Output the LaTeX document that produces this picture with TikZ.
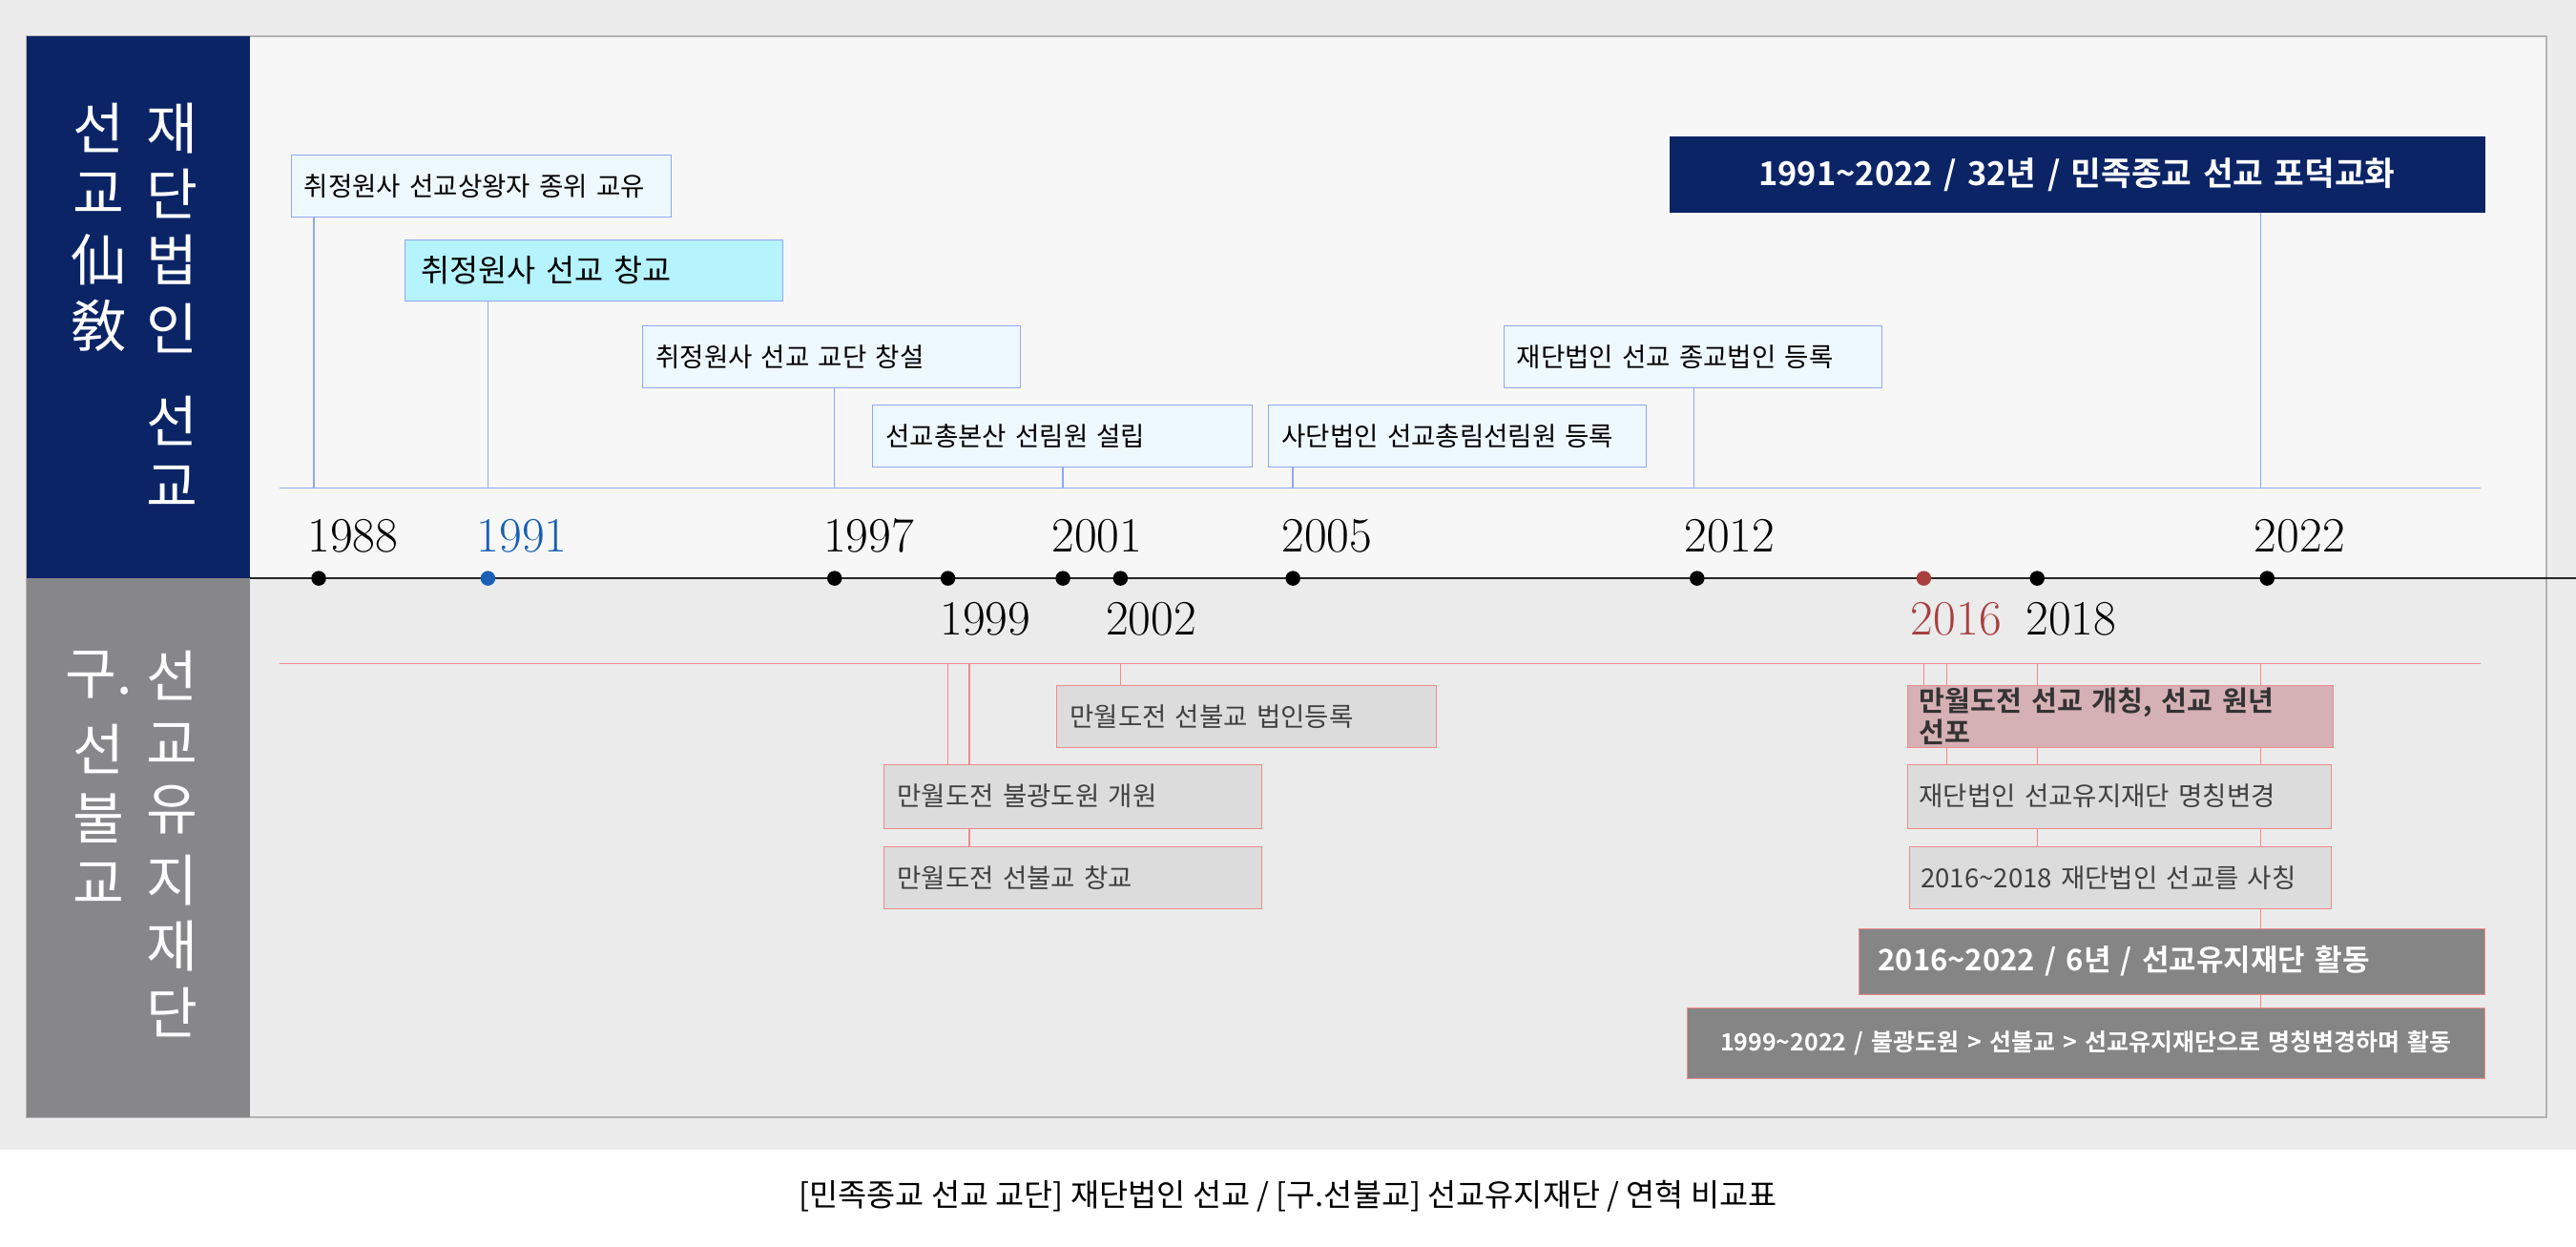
\documentclass[tikz,border=0pt]{standalone}
\usepackage{fontspec}
\newfontfamily\kr{Noto Sans CJK KR}
\newfontfamily\krb{Noto Sans CJK KR Bold}
\definecolor{navy}{HTML}{0B2466}
\definecolor{colgray}{HTML}{87878A}
\definecolor{bline}{HTML}{8FA8F0}
\definecolor{pline}{HTML}{F08A8A}
\definecolor{tfill}{HTML}{EEF8FF}
\definecolor{cfill}{HTML}{B5F3FD}
\definecolor{gfill}{HTML}{DCDCDC}
\definecolor{rfill}{HTML}{D5B0B4}
\definecolor{dgray}{HTML}{858585}
\definecolor{yblue}{HTML}{1A5FB4}
\definecolor{yred}{HTML}{A8403F}
\tikzset{
  topbox/.style = {draw = bline, fill = tfill, anchor = north west, inner sep = 0pt, align = left, font = \kr\fontsize{16}{18}\selectfont},
  botbox/.style = {draw = pline, fill = gfill, anchor = north west, inner sep = 0pt, align = left, text = black!75, font = \kr\fontsize{16}{18}\selectfont},
  darkbox/.style = {draw = pline, fill = dgray, anchor = north west, inner sep = 0pt, text = white, font = \krb\fontsize{18}{20}\selectfont},
  year/.style = {anchor = west, inner sep = 0pt, font = \fontsize{30}{32}\selectfont},
  dot/.style = {circle, fill = black, inner sep = 0pt, minimum size = 9pt},
  bl/.style = {draw = bline, line width = 0.8pt},
  pl/.style = {draw = pline, line width = 0.8pt},
  colchar/.style = {text = white, font = \kr\fontsize{34}{36}\selectfont, inner sep = 0pt}
}
\begin{document}
\begin{tikzpicture}[x = 1pt, y = -1pt]
\useasboundingbox (0, 0) rectangle (1568, 759);
\fill[white] (0, 0) rectangle (1568, 759);
\fill[gray!15] (0, 0) rectangle (1568, 700);
% panels
\fill[white!97!black] (152, 22) rectangle (1550, 352);
\fill[gray!16] (152, 352) rectangle (1550, 680);
\draw[gray!60, line width = 0.8pt] (16, 22) rectangle (1550, 680);
\fill[navy] (16, 22) rectangle (152, 352);
\fill[colgray] (16, 352) rectangle (152, 680);
% left titles
\foreach \c [count = \i] in {선, 교, 仙, 敎}
  \node[colchar] at (60, 38 + 40*\i) {\c};
\foreach \c/\y in {재/78, 단/118, 법/158, 인/200, 선/256, 교/296}
  \node[colchar] at (105, \y) {\c};
\foreach \c/\y in {구./411, 선/456, 불/498, 교/538}
  \node[colchar] at (60, \y) {\c};
\foreach \c/\y in {선/411, 교/453, 유/493, 지/536, 재/576, 단/616}
  \node[colchar] at (105, \y) {\c};
% guide lines
\coordinate (bl) at (170, 297);
\coordinate (pl) at (170, 404);
\draw[bl] (bl) -- (1510, 297);
\draw[pl] (pl) -- (1510, 404);
\draw[gray!30!black, line width = 1.2pt] (152, 352) -- (1568, 352);
% dots and years
\foreach \n/\x/\c in {88/194/black, 91/297/yblue, 97/508/black, 99/577/black, 01/647/black, 02/682/black, 05/787/black, 12/1033/black, 16/1171/yred, 18/1240/black, 22/1380/black}
  \node[dot, fill = \c] (d\n) at (\x, 352) {};
\node[year] at (187, 326) {1988};
\node[year, text = yblue] at (290, 326) {1991};
\node[year] at (501, 326) {1997};
\node[year] at (640, 326) {2001};
\node[year] at (780, 326) {2005};
\node[year] at (1025, 326) {2012};
\node[year] at (1372, 326) {2022};
\node[year] at (572, 377) {1999};
\node[year] at (673, 377) {2002};
\node[year, text = yred] at (1163, 377) {2016};
\node[year] at (1233, 377) {2018};
% upper connectors
\coordinate (c88) at (191, 297);
\coordinate (c12) at (1031, 297);
\coordinate (c22) at (1376, 297);
\draw[bl] (c88) -- (191, 132);
\draw[bl] (d91 |- bl) -- (297, 183);
\draw[bl] (d97 |- bl) -- (508, 236);
\draw[bl] (d01 |- bl) -- (647, 284);
\draw[bl] (d05 |- bl) -- (787, 284);
\draw[bl] (c12) -- (1031, 236);
\draw[bl] (c22) -- (1376, 129);
% lower connectors
\coordinate (c99) at (590, 404);
\coordinate (c16) at (1185, 404);
\coordinate (c18) at (1240, 404);
\coordinate (c22b) at (1376, 404);
\draw[pl] (d99 |- pl) -- (577, 465);
\draw[pl] (c99) -- (590, 515);
\draw[pl] (d02 |- pl) -- (682, 417);
\draw[pl] (d16 |- pl) -- (1171, 417);
\draw[pl] (c16) -- (1185, 465);
\draw[pl] (c18) -- (1240, 553);
\draw[pl] (c22b) -- (1376, 613);
% upper boxes
\node[topbox, minimum width = 231pt, minimum height = 38pt, text width = 215pt] (t1) at (177, 94) {취정원사 선교상왕자 종위 교유};
\node[topbox, fill = cfill, minimum width = 230pt, minimum height = 37pt, text width = 210pt, font = \kr\fontsize{19}{21}\selectfont] (t2) at (246, 146) {취정원사 선교 창교};
\node[topbox, minimum width = 230pt, minimum height = 38pt, text width = 214pt] (t3) at (391, 198) {취정원사 선교 교단 창설};
\node[topbox, minimum width = 231pt, minimum height = 38pt, text width = 215pt] (t4) at (531, 246) {선교총본산 선림원 설립};
\node[topbox, minimum width = 230pt, minimum height = 38pt, text width = 214pt] (t5) at (772, 246) {사단법인 선교총림선림원 등록};
\node[topbox, minimum width = 230pt, minimum height = 38pt, text width = 214pt] (t6) at (915, 198) {재단법인 선교 종교법인 등록};
\node[topbox, fill = navy, draw = navy, text = white, align = center, minimum width = 496pt, minimum height = 46pt, text width = 496pt, font = \krb\fontsize{20}{22}\selectfont] (t7) at (1016, 83) {1991\textasciitilde 2022 / 32년 / 민족종교 선교 포덕교화};
% lower boxes
\node[botbox, minimum width = 231pt, minimum height = 38pt, text width = 215pt] (b1) at (643, 417) {만월도전 선불교 법인등록};
\node[botbox, minimum width = 230pt, minimum height = 39pt, text width = 214pt] (b2) at (538, 465) {만월도전 불광도원 개원};
\node[botbox, minimum width = 230pt, minimum height = 38pt, text width = 214pt] (b3) at (538, 515) {만월도전 선불교 창교};
\node[botbox, fill = rfill, text = black!80, minimum width = 259pt, minimum height = 38pt, text width = 245pt, font = \krb\fontsize{17}{19}\selectfont] (b4) at (1161, 417) {만월도전 선교 개칭, 선교 원년 선포};
\node[botbox, minimum width = 258pt, minimum height = 39pt, text width = 244pt] (b5) at (1161, 465) {재단법인 선교유지재단 명칭변경};
\node[botbox, minimum width = 257pt, minimum height = 38pt, text width = 243pt] (b6) at (1162, 515) {2016\textasciitilde 2018 재단법인 선교를 사칭};
\node[darkbox, align = left, minimum width = 381pt, minimum height = 40pt, text width = 357pt] (b7) at (1131, 565) {2016\textasciitilde 2022 / 6년 / 선교유지재단 활동};
\node[darkbox, align = center, minimum width = 485pt, minimum height = 43pt, text width = 485pt, font = \krb\fontsize{14.5}{16}\selectfont] (b8) at (1027, 613) {1999\textasciitilde 2022 / 불광도원 > 선불교 > 선교유지재단으로 명칭변경하며 활동};
% caption
\node[font = \kr\fontsize{19}{21}\selectfont] (cap) at (784, 728) {[민족종교 선교 교단] 재단법인 선교 / [구.선불교] 선교유지재단 / 연혁 비교표};
\end{tikzpicture}
\end{document}
